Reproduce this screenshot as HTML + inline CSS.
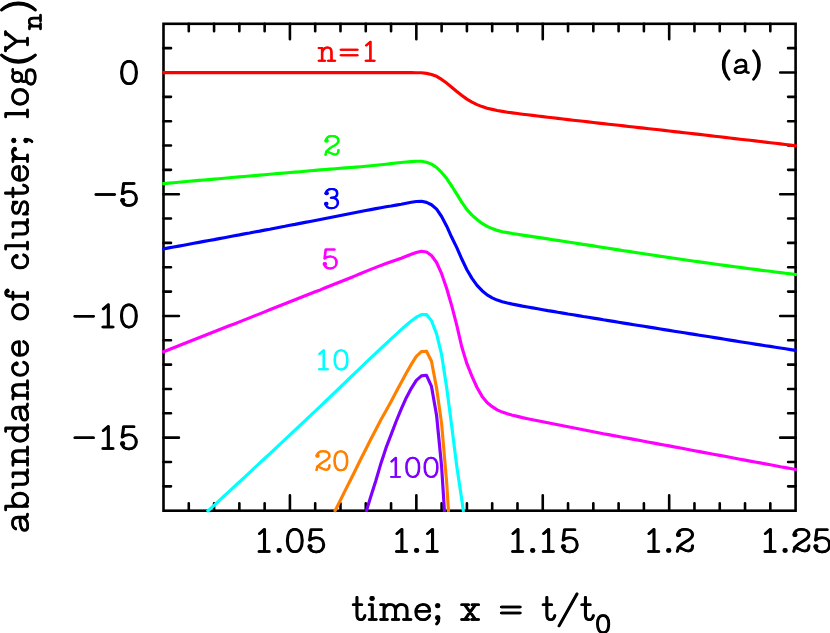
<!DOCTYPE html>
<html><head><meta charset="utf-8"><title>chart</title>
<style>html,body{margin:0;padding:0;background:#fff;font-family:"Liberation Sans",sans-serif;}svg{display:block;stroke-linecap:round;stroke-linejoin:round;}</style></head><body>
<svg width="830" height="633" viewBox="0 0 830 633">
<rect width="830" height="633" fill="#fff"/>
<defs><g id="g0"><path d="M8.7 -23.7C13.2 -23.7 16.1 -19.5 16.1 -12.45C16.1 -5.4 13.2 -1.2 8.7 -1.2C4.2 -1.2 1.3 -5.4 1.3 -12.45C1.3 -19.5 4.2 -23.7 8.7 -23.7Z" fill="none"/></g><g id="g1"><path d="M13.7 -23.2H3.4L2.1 -12.8C3.6 -14.4 6 -15.2 8.6 -15.2C13 -15.2 16.1 -12.4 16.1 -8C16.1 -3.8 13 -1.1 8.6 -1.1C5.2 -1.1 2.6 -2.8 1.8 -6" fill="none"/><circle cx="2.4" cy="-6.4" r="2.3" fill="currentColor" stroke="none"/></g><g id="g2"><path d="M1.25 -12.2H19.75" fill="none"/></g><g id="g3"><path d="M1.7 -19.4L6.7 -23.7V-1.45 M1.3 -1.45H11.4" fill="none"/></g><g id="g4"><circle cx="2.35" cy="-2.6" r="2.35" fill="currentColor" stroke="none"/></g><g id="g5"><path d="M2.0 -18.2C2.4 -21.6 5.2 -23.7 9 -23.7C13.4 -23.7 16.7 -21.8 16.7 -18.2C16.7 -15.2 14.4 -13.6 9.6 -11.2C5.4 -9 2 -6.8 1.5 -1.6 M2.3 -5.6C6 -5.4 8.5 -2.2 12.2 -1.9C15 -1.7 16.7 -3.5 16.7 -7.2" fill="none"/><circle cx="2.7" cy="-18.2" r="2.3" fill="currentColor" stroke="none"/></g><g id="g6"><path d="M4.95 -23.4V-6C4.95 -2.6 6.4 -1.0 8.8 -1.0C11 -1.0 12.3 -2.6 12.9 -5.3 M1.3 -15.85H9.7" fill="none"/></g><g id="g7"><path d="M1.3 -15.85H4.25V-1.3 M1.3 -1.3H8.2" fill="none"/><circle cx="4.1" cy="-22.2" r="2.45" fill="currentColor" stroke="none"/></g><g id="g8"><path d="M1.3 -15.85H4.7V-1.3 M1.3 -1.3H7.9 M4.7 -11.5C5.6 -14.5 7.6 -16.3 10.6 -16.3C14.3 -16.3 16.15 -14.2 16.15 -10.8V-1.3 M13 -1.3H19.3 M16.15 -11.5C17 -14.5 19 -16.3 22 -16.3C25.8 -16.3 27.6 -14.2 27.6 -10.8V-1.3 M24.2 -1.3H31.4" fill="none"/></g><g id="g9"><path d="M1.3 -9.5H14.9C14.9 -13.9 12.4 -16.3 8.3 -16.3C4 -16.3 1.3 -13 1.3 -8.6C1.3 -4.1 4 -1.0 8.5 -1.0C11.7 -1.0 13.8 -2.6 14.9 -5.2" fill="none"/></g><g id="g10"><path d="M3.4 -2.3C3.7 0.2 2.8 2.1 1.4 3.2" fill="none"/><circle cx="2.45" cy="-15.0" r="2.45" fill="currentColor" stroke="none"/><circle cx="2.45" cy="-2.9" r="2.45" fill="currentColor" stroke="none"/></g><g id="g11"><path d="M1.3 -16H8.1 M11.7 -16H18.1 M1.3 -1.3H8.1 M11.3 -1.3H18.1 M4.3 -16L15.1 -1.3 M15 -16L4.4 -1.3" fill="none"/></g><g id="g12"><path d="M1.25 -13.7H19.95 M1.25 -7.7H19.95" fill="none"/></g><g id="g13"><path d="M18.9 -26.9L0.9 5.3" fill="none"/></g><g id="g14"><path d="M2.8 -13.0C3.5 -15.2 5.8 -16.3 8.6 -16.3C12.2 -16.3 14.2 -14.4 14.2 -11V-3.6C14.2 -2 15.4 -1.3 17.3 -1.3 M14.2 -8.6C11.5 -9.0 7.8 -8.8 5 -7.9C2.6 -7.2 1.4 -6 1.4 -4.4C1.4 -2.3 3 -1.0 5.9 -1.0C9.3 -1.0 12.4 -2.8 14.2 -5.8" fill="none"/></g><g id="g15"><path d="M1.3 -23.1H4.75V-1.3 M4.75 -11C6 -14.3 8.3 -16.3 11 -16.3C15 -16.3 17.65 -13 17.65 -8.65C17.65 -4.3 15 -1.0 11 -1.0C8.3 -1.0 6 -3 4.75 -6.3" fill="none"/></g><g id="g16"><path d="M1.3 -15.85H4.7V-6C4.7 -2.6 6.4 -1.0 9.2 -1.0C12.2 -1.0 14.6 -2.6 15.8 -5.6 M12.3 -15.85H15.8V-1.3H19.2" fill="none"/></g><g id="g17"><path d="M1.3 -15.85H5V-1.3 M1.3 -1.3H8.1 M5 -11C6 -14.3 8.5 -16.3 11.3 -16.3C14.3 -16.3 15.5 -13.8 15.5 -10.5V-1.3 M11.7 -1.3H19.4" fill="none"/></g><g id="g18"><path d="M11.2 -23.1H14.25V-1.3H17.7 M14.25 -11C13 -14.3 10.7 -16.3 8 -16.3C4 -16.3 1.3 -13 1.3 -8.65C1.3 -4.3 4 -1.0 8 -1.0C10.7 -1.0 13 -3 14.25 -6.3" fill="none"/></g><g id="g19"><path d="M13.3 -12.4C12.4 -14.9 10.6 -16.3 8.3 -16.3C4 -16.3 1.3 -13 1.3 -8.65C1.3 -4.3 4 -1.0 8.4 -1.0C11.4 -1.0 13.4 -2.7 14.2 -5.2" fill="none"/><circle cx="12.7" cy="-12.2" r="2.0" fill="currentColor" stroke="none"/></g><g id="g20"><path d="M8.55 -16.3C12.7 -16.3 15.8 -13 15.8 -8.65C15.8 -4.3 12.7 -1.0 8.55 -1.0C4.4 -1.0 1.3 -4.3 1.3 -8.65C1.3 -13 4.4 -16.3 8.55 -16.3Z" fill="none"/></g><g id="g21"><path d="M4.2 -1.3V-19.3C4.2 -21.9 5.7 -23.1 7.6 -23.1C8.9 -23.1 9.8 -22.5 10 -21.6 M1.3 -15.85H8.1 M1.3 -1.3H7.8" fill="none"/><circle cx="9.5" cy="-21.3" r="2.0" fill="currentColor" stroke="none"/></g><g id="g22"><path d="M1.3 -23.1H4.5V-1.3 M1.3 -1.3H8" fill="none"/></g><g id="g23"><path d="M13.1 -11.8C12.6 -14.6 10.5 -16.3 7.5 -16.3C4.3 -16.3 2.2 -14.6 2.2 -12.4C2.2 -10 4.4 -9.3 7.6 -8.7C11 -8 13.7 -7.2 13.7 -4.7C13.7 -2.4 11.3 -1.0 7.7 -1.0C4.5 -1.0 2.2 -2.4 1.5 -5.4 M13.1 -11.8V-15.6 M1.5 -5.4V-1.4" fill="none"/></g><g id="g24"><path d="M1.3 -15.85H4.2V-1.3 M1.3 -1.3H7.6 M4.2 -10.5C5.4 -14 7.8 -16.3 10.6 -16.3C12.4 -16.3 13.5 -15.6 13.9 -14.3" fill="none"/><circle cx="13.6" cy="-13.9" r="2.0" fill="currentColor" stroke="none"/></g><g id="g25"><path d="M8.4 -16.3C10.9 -16.3 12.9 -14.2 12.9 -11.6C12.9 -9 10.9 -6.9 8.4 -6.9C5.9 -6.9 3.9 -9 3.9 -11.6C3.9 -14.2 5.9 -16.3 8.4 -16.3Z M11.8 -14.8C12.8 -15.9 14.2 -16.4 15.8 -16.0 M5.6 -7.7C3.6 -6.6 3.2 -3.4 5.4 -2.6H11C14.2 -2.6 15.5 -0.6 15.5 1.6C15.5 4.8 12.4 6.4 8.4 6.4C4.4 6.4 1.3 4.9 1.3 2.2C1.3 0.2 2.6 -1.4 4.6 -2.2" fill="none"/></g><g id="g26"><path d="M8.2 -27.3A24 24 0 0 0 8.2 6.6A26.9 26.9 0 0 1 8.2 -27.3Z" fill="currentColor" class="pf"/></g><g id="g27"><path d="M1.3 -23.3H4.6 M17.4 -23.3H20.3 M2.5 -23.3L10.8 -12.2L19.4 -23.3 M10.8 -12.2V-1.3 M7.4 -1.3H13.6" fill="none"/></g><g id="g28"><path d="M1 -27.3A24 24 0 0 1 1 6.6A26.9 26.9 0 0 0 1 -27.3Z" fill="currentColor" class="pf"/></g><g id="g29"><path d="M2.2 -19.2C2.8 -22 5.2 -23.7 8.6 -23.7C12.6 -23.7 15.2 -21.6 15.2 -18.6C15.2 -15.4 12.4 -13.6 8 -13.6C12.8 -13.6 16 -11.4 16 -7.6C16 -3.6 12.8 -1.2 8.6 -1.2C4.8 -1.2 2.2 -3 1.7 -6" fill="none"/><circle cx="2.8" cy="-18.8" r="2.3" fill="currentColor" stroke="none"/><circle cx="2.4" cy="-6.6" r="2.3" fill="currentColor" stroke="none"/></g></defs>
<g stroke="#000" stroke-width="2.6" stroke-linecap="round" fill="none">
<rect x="163.5" y="23.8" width="632.10" height="486.90" stroke-linejoin="miter"/>
<path d="M188.78 510.7v-7.5M188.78 23.8v7.5M214.07 510.7v-7.5M214.07 23.8v7.5M239.35 510.7v-7.5M239.35 23.8v7.5M264.64 510.7v-7.5M264.64 23.8v7.5M289.92 510.7v-15.4M289.92 23.8v15.4M315.20 510.7v-7.5M315.20 23.8v7.5M340.49 510.7v-7.5M340.49 23.8v7.5M365.77 510.7v-7.5M365.77 23.8v7.5M391.06 510.7v-7.5M391.06 23.8v7.5M416.34 510.7v-15.4M416.34 23.8v15.4M441.62 510.7v-7.5M441.62 23.8v7.5M466.91 510.7v-7.5M466.91 23.8v7.5M492.19 510.7v-7.5M492.19 23.8v7.5M517.48 510.7v-7.5M517.48 23.8v7.5M542.76 510.7v-15.4M542.76 23.8v15.4M568.04 510.7v-7.5M568.04 23.8v7.5M593.33 510.7v-7.5M593.33 23.8v7.5M618.61 510.7v-7.5M618.61 23.8v7.5M643.90 510.7v-7.5M643.90 23.8v7.5M669.18 510.7v-15.4M669.18 23.8v15.4M694.46 510.7v-7.5M694.46 23.8v7.5M719.75 510.7v-7.5M719.75 23.8v7.5M745.03 510.7v-7.5M745.03 23.8v7.5M770.32 510.7v-7.5M770.32 23.8v7.5M163.5 48.14h7.5M795.6 48.14h-7.5M163.5 72.49h15.4M795.6 72.49h-15.4M163.5 96.83h7.5M795.6 96.83h-7.5M163.5 121.18h7.5M795.6 121.18h-7.5M163.5 145.53h7.5M795.6 145.53h-7.5M163.5 169.87h7.5M795.6 169.87h-7.5M163.5 194.22h15.4M795.6 194.22h-15.4M163.5 218.56h7.5M795.6 218.56h-7.5M163.5 242.91h7.5M795.6 242.91h-7.5M163.5 267.25h7.5M795.6 267.25h-7.5M163.5 291.59h7.5M795.6 291.59h-7.5M163.5 315.94h15.4M795.6 315.94h-15.4M163.5 340.29h7.5M795.6 340.29h-7.5M163.5 364.63h7.5M795.6 364.63h-7.5M163.5 388.97h7.5M795.6 388.97h-7.5M163.5 413.32h7.5M795.6 413.32h-7.5M163.5 437.67h15.4M795.6 437.67h-15.4M163.5 462.01h7.5M795.6 462.01h-7.5M163.5 486.35h7.5M795.6 486.35h-7.5"/>
</g>
<g fill="none" stroke-width="3.15" stroke-linejoin="round" stroke-linecap="butt">
<path d="M162.2 72.6 L163.5 72.6 L168.6 72.6 L173.6 72.6 L178.7 72.6 L183.7 72.6 L188.8 72.6 L193.8 72.6 L198.9 72.6 L204.0 72.6 L209.0 72.6 L214.1 72.6 L219.1 72.6 L224.2 72.6 L229.2 72.6 L234.3 72.6 L239.4 72.6 L244.4 72.6 L249.5 72.6 L254.5 72.6 L259.6 72.6 L264.6 72.6 L269.7 72.6 L274.7 72.6 L279.8 72.6 L284.9 72.6 L289.9 72.6 L295.0 72.6 L300.0 72.6 L305.1 72.6 L310.1 72.6 L315.2 72.6 L320.3 72.6 L325.3 72.6 L330.4 72.6 L335.4 72.6 L340.5 72.6 L345.5 72.6 L350.6 72.6 L355.7 72.6 L360.7 72.6 L365.8 72.6 L370.8 72.6 L375.9 72.6 L380.9 72.6 L386.0 72.6 L391.1 72.6 L396.1 72.6 L401.2 72.6 L406.2 72.6 L411.3 72.6 L416.3 72.7 L421.4 72.8 L426.5 73.4 L431.5 74.5 L436.6 76.3 L441.6 79.4 L446.7 83.1 L451.7 87.3 L456.8 91.5 L461.9 95.5 L466.9 99.1 L472.0 102.1 L477.0 104.6 L482.1 106.6 L487.1 108.2 L492.2 109.4 L497.2 110.5 L502.3 111.4 L507.4 112.2 L512.4 112.9 L517.5 113.5 L522.5 114.2 L527.6 114.8 L532.6 115.4 L537.7 116.0 L542.8 116.6 L547.8 117.2 L552.9 117.8 L557.9 118.4 L563.0 119.0 L568.0 119.6 L573.1 120.2 L578.2 120.8 L583.2 121.3 L588.3 121.9 L593.3 122.5 L598.4 123.1 L603.4 123.6 L608.5 124.2 L613.6 124.8 L618.6 125.3 L623.7 125.9 L628.7 126.5 L633.8 127.0 L638.8 127.6 L643.9 128.1 L649.0 128.7 L654.0 129.3 L659.1 129.8 L664.1 130.4 L669.2 131.0 L674.2 131.6 L679.3 132.1 L684.4 132.7 L689.4 133.3 L694.5 133.9 L699.5 134.4 L704.6 135.0 L709.6 135.6 L714.7 136.2 L719.7 136.8 L724.8 137.4 L729.9 138.0 L734.9 138.6 L740.0 139.2 L745.0 139.7 L750.1 140.3 L755.1 140.9 L760.2 141.5 L765.3 142.1 L770.3 142.7 L775.4 143.3 L780.4 143.9 L785.5 144.5 L790.5 145.1 L795.6 145.7 L796.9 145.9" stroke="#ff0000"/>
<path d="M162.2 183.7 L163.5 183.6 L168.6 183.1 L173.6 182.7 L178.7 182.2 L183.7 181.8 L188.8 181.3 L193.8 180.9 L198.9 180.4 L204.0 180.0 L209.0 179.6 L214.1 179.1 L219.1 178.7 L224.2 178.2 L229.2 177.8 L234.3 177.3 L239.4 176.9 L244.4 176.5 L249.5 176.0 L254.5 175.6 L259.6 175.1 L264.6 174.7 L269.7 174.3 L274.7 173.8 L279.8 173.4 L284.9 173.0 L289.9 172.5 L295.0 172.1 L300.0 171.7 L305.1 171.2 L310.1 170.8 L315.2 170.4 L320.3 169.9 L325.3 169.5 L330.4 169.1 L335.4 168.7 L340.5 168.3 L345.5 167.9 L350.6 167.5 L355.7 167.1 L360.7 166.7 L365.8 166.2 L370.8 165.8 L375.9 165.3 L380.9 164.8 L386.0 164.2 L391.1 163.6 L396.1 163.0 L401.2 162.5 L406.2 162.0 L411.3 161.6 L416.3 161.3 L421.4 161.2 L426.5 162.2 L431.5 164.1 L436.6 167.5 L441.6 172.4 L446.7 178.6 L451.7 186.0 L456.8 194.2 L461.9 202.4 L466.9 209.6 L472.0 215.1 L477.0 219.5 L482.1 223.4 L487.1 226.4 L492.2 228.6 L497.2 230.4 L502.3 231.7 L507.4 232.6 L512.4 233.5 L517.5 234.3 L522.5 235.1 L527.6 235.9 L532.6 236.6 L537.7 237.4 L542.8 238.1 L547.8 238.9 L552.9 239.7 L557.9 240.4 L563.0 241.2 L568.0 242.0 L573.1 242.8 L578.2 243.6 L583.2 244.4 L588.3 245.1 L593.3 245.9 L598.4 246.7 L603.4 247.5 L608.5 248.3 L613.6 249.1 L618.6 249.9 L623.7 250.7 L628.7 251.4 L633.8 252.2 L638.8 253.0 L643.9 253.8 L649.0 254.5 L654.0 255.3 L659.1 256.1 L664.1 256.8 L669.2 257.6 L674.2 258.3 L679.3 259.0 L684.4 259.8 L689.4 260.5 L694.5 261.2 L699.5 261.9 L704.6 262.6 L709.6 263.3 L714.7 264.0 L719.7 264.7 L724.8 265.4 L729.9 266.1 L734.9 266.8 L740.0 267.4 L745.0 268.1 L750.1 268.8 L755.1 269.4 L760.2 270.1 L765.3 270.7 L770.3 271.3 L775.4 272.0 L780.4 272.6 L785.5 273.3 L790.5 273.9 L795.6 274.5 L796.9 274.7" stroke="#00ff00"/>
<path d="M162.2 249.1 L163.5 248.9 L168.6 247.9 L173.6 247.0 L178.7 246.1 L183.7 245.2 L188.8 244.2 L193.8 243.3 L198.9 242.4 L204.0 241.4 L209.0 240.5 L214.1 239.6 L219.1 238.6 L224.2 237.7 L229.2 236.8 L234.3 235.8 L239.4 234.9 L244.4 233.9 L249.5 233.0 L254.5 232.0 L259.6 231.1 L264.6 230.1 L269.7 229.2 L274.7 228.2 L279.8 227.2 L284.9 226.3 L289.9 225.3 L295.0 224.4 L300.0 223.4 L305.1 222.4 L310.1 221.5 L315.2 220.5 L320.3 219.5 L325.3 218.5 L330.4 217.5 L335.4 216.5 L340.5 215.5 L345.5 214.5 L350.6 213.5 L355.7 212.5 L360.7 211.5 L365.8 210.5 L370.8 209.6 L375.9 208.6 L380.9 207.7 L386.0 206.8 L391.1 206.0 L396.1 205.1 L401.2 204.3 L406.2 203.3 L411.3 202.3 L416.3 201.5 L421.4 201.3 L426.5 202.4 L431.5 204.7 L436.6 209.1 L441.6 216.5 L446.7 226.2 L451.7 237.3 L456.8 247.6 L461.9 259.3 L466.9 269.8 L472.0 278.4 L477.0 285.3 L482.1 290.7 L487.1 294.9 L492.2 297.9 L497.2 300.1 L502.3 301.7 L507.4 303.0 L512.4 304.1 L517.5 305.1 L522.5 306.1 L527.6 307.0 L532.6 307.9 L537.7 308.8 L542.8 309.7 L547.8 310.6 L552.9 311.4 L557.9 312.3 L563.0 313.1 L568.0 314.0 L573.1 314.8 L578.2 315.6 L583.2 316.5 L588.3 317.3 L593.3 318.1 L598.4 318.9 L603.4 319.8 L608.5 320.6 L613.6 321.4 L618.6 322.2 L623.7 323.1 L628.7 323.9 L633.8 324.7 L638.8 325.5 L643.9 326.3 L649.0 327.1 L654.0 327.9 L659.1 328.8 L664.1 329.6 L669.2 330.4 L674.2 331.2 L679.3 332.0 L684.4 332.8 L689.4 333.6 L694.5 334.4 L699.5 335.2 L704.6 336.0 L709.6 336.8 L714.7 337.6 L719.7 338.4 L724.8 339.2 L729.9 340.1 L734.9 340.9 L740.0 341.7 L745.0 342.5 L750.1 343.3 L755.1 344.1 L760.2 344.9 L765.3 345.7 L770.3 346.4 L775.4 347.2 L780.4 348.0 L785.5 348.8 L790.5 349.6 L795.6 350.4 L796.9 350.6" stroke="#0000ff"/>
<path d="M162.2 352.2 L163.5 351.7 L168.6 349.7 L173.6 347.8 L178.7 345.8 L183.7 343.8 L188.8 341.8 L193.8 339.8 L198.9 337.8 L204.0 335.8 L209.0 333.8 L214.1 331.8 L219.1 329.8 L224.2 327.8 L229.2 325.8 L234.3 323.9 L239.4 321.9 L244.4 319.9 L249.5 317.9 L254.5 315.9 L259.6 313.9 L264.6 311.9 L269.7 309.8 L274.7 307.8 L279.8 305.8 L284.9 303.8 L289.9 301.8 L295.0 299.8 L300.0 297.8 L305.1 295.8 L310.1 293.8 L315.2 291.8 L320.3 289.9 L325.3 287.8 L330.4 285.8 L335.4 283.8 L340.5 281.8 L345.5 279.8 L350.6 277.7 L355.7 275.6 L360.7 273.5 L365.8 271.4 L370.8 269.4 L375.9 267.4 L380.9 265.4 L386.0 263.6 L391.1 261.8 L396.1 260.1 L401.2 258.2 L406.2 256.2 L411.3 254.3 L416.3 252.5 L421.4 251.2 L426.5 252.0 L431.5 255.5 L436.6 262.5 L441.6 273.7 L446.7 288.5 L451.7 305.7 L456.8 325.3 L461.9 347.3 L466.9 363.7 L472.0 376.4 L477.0 387.5 L482.1 396.4 L487.1 402.5 L492.2 406.7 L497.2 409.9 L502.3 412.1 L507.4 413.8 L512.4 415.2 L517.5 416.4 L522.5 417.6 L527.6 418.7 L532.6 419.7 L537.7 420.7 L542.8 421.8 L547.8 422.8 L552.9 423.8 L557.9 424.8 L563.0 425.8 L568.0 426.8 L573.1 427.8 L578.2 428.8 L583.2 429.8 L588.3 430.8 L593.3 431.7 L598.4 432.7 L603.4 433.7 L608.5 434.6 L613.6 435.6 L618.6 436.5 L623.7 437.5 L628.7 438.4 L633.8 439.4 L638.8 440.3 L643.9 441.3 L649.0 442.2 L654.0 443.1 L659.1 444.1 L664.1 445.0 L669.2 445.9 L674.2 446.9 L679.3 447.8 L684.4 448.8 L689.4 449.7 L694.5 450.7 L699.5 451.6 L704.6 452.6 L709.6 453.5 L714.7 454.5 L719.7 455.4 L724.8 456.3 L729.9 457.3 L734.9 458.2 L740.0 459.2 L745.0 460.1 L750.1 461.1 L755.1 462.0 L760.2 462.9 L765.3 463.9 L770.3 464.8 L775.4 465.7 L780.4 466.7 L785.5 467.6 L790.5 468.5 L795.6 469.5 L796.9 469.7" stroke="#ff00ff"/>
<path d="M206.9 511.9 L209.0 510.0 L214.1 505.3 L219.1 500.6 L224.2 496.0 L229.2 491.3 L234.3 486.6 L239.4 481.9 L244.4 477.3 L249.5 472.6 L254.5 467.9 L259.6 463.2 L264.6 458.5 L269.7 453.8 L274.7 449.1 L279.8 444.4 L284.9 439.6 L289.9 434.9 L295.0 430.2 L300.0 425.4 L305.1 420.7 L310.1 415.9 L315.2 411.1 L320.3 406.3 L325.3 401.5 L330.4 396.6 L335.4 391.8 L340.5 386.9 L345.5 382.1 L350.6 377.2 L355.7 372.4 L360.7 367.6 L365.8 362.7 L370.8 357.9 L375.9 353.2 L380.9 348.4 L386.0 343.6 L391.1 338.9 L396.1 334.3 L401.2 329.7 L406.2 325.2 L411.3 320.9 L416.3 317.2 L421.4 314.6 L426.5 314.5 L431.5 320.7 L436.6 333.9 L441.6 354.7 L446.7 387.7 L451.7 426.0 L456.8 466.6 L461.9 500.6 L463.5 511.9" stroke="#00ffff"/>
<path d="M334.5 511.9 L335.4 510.1 L340.5 500.0 L345.5 489.9 L350.6 479.7 L355.7 469.5 L360.7 459.3 L365.8 449.2 L370.8 439.2 L375.9 429.4 L380.9 419.8 L386.0 410.7 L391.1 401.5 L396.1 391.9 L401.2 382.5 L406.2 373.3 L411.3 364.4 L416.3 356.3 L421.4 351.6 L426.5 351.2 L431.5 361.2 L436.6 388.3 L441.6 423.6 L446.7 482.9 L448.5 511.9" stroke="#ff8000"/>
<path d="M366.1 511.9 L370.8 496.5 L375.9 480.5 L380.9 463.4 L386.0 447.9 L391.1 434.6 L396.1 421.5 L401.2 409.1 L406.2 397.9 L411.3 388.3 L416.3 380.4 L421.4 375.9 L426.5 375.3 L431.5 386.4 L436.6 415.5 L441.6 466.5 L444.5 511.9" stroke="#8000ff"/>
</g>
<g transform="translate(120.30 84.89) scale(1.0)" color="#000" stroke="#000" stroke-width="2.50"><use href="#g0" x="-0.30"/><use href="#g0" x="0.30"/></g>
<g transform="translate(120.30 206.62) scale(1.0)" color="#000" stroke="#000" stroke-width="2.50"><use href="#g1" x="-0.30"/><use href="#g1" x="0.30"/></g><g transform="translate(94.75 206.62) scale(1.0)" color="#000" stroke="#000" stroke-width="2.50"><use href="#g2" x="-0.30"/><use href="#g2" x="0.30"/></g>
<g transform="translate(101.60 328.34) scale(1.0)" color="#000" stroke="#000" stroke-width="2.50"><use href="#g3" x="-0.30"/><use href="#g3" x="0.30"/></g><g transform="translate(120.20 328.34) scale(1.0)" color="#000" stroke="#000" stroke-width="2.50"><use href="#g0" x="-0.30"/><use href="#g0" x="0.30"/></g><g transform="translate(73.70 328.34) scale(1.0)" color="#000" stroke="#000" stroke-width="2.50"><use href="#g2" x="-0.30"/><use href="#g2" x="0.30"/></g>
<g transform="translate(101.60 450.06) scale(1.0)" color="#000" stroke="#000" stroke-width="2.50"><use href="#g3" x="-0.30"/><use href="#g3" x="0.30"/></g><g transform="translate(120.20 450.06) scale(1.0)" color="#000" stroke="#000" stroke-width="2.50"><use href="#g1" x="-0.30"/><use href="#g1" x="0.30"/></g><g transform="translate(73.70 450.06) scale(1.0)" color="#000" stroke="#000" stroke-width="2.50"><use href="#g2" x="-0.30"/><use href="#g2" x="0.30"/></g>
<g transform="translate(257.80 553.00) scale(1.0)" color="#000" stroke="#000" stroke-width="2.50"><use href="#g3" x="-0.30"/><use href="#g3" x="0.30"/></g><g transform="translate(276.85 553.00) scale(1.0)" color="#000" stroke="#000" stroke-width="2.50"><use href="#g4" x="-0.30"/><use href="#g4" x="0.30"/></g><g transform="translate(286.10 553.00) scale(1.0)" color="#000" stroke="#000" stroke-width="2.50"><use href="#g0" x="-0.30"/><use href="#g0" x="0.30"/></g><g transform="translate(307.60 553.00) scale(1.0)" color="#000" stroke="#000" stroke-width="2.50"><use href="#g1" x="-0.30"/><use href="#g1" x="0.30"/></g>
<g transform="translate(395.20 553.00) scale(1.0)" color="#000" stroke="#000" stroke-width="2.50"><use href="#g3" x="-0.30"/><use href="#g3" x="0.30"/></g><g transform="translate(414.25 553.00) scale(1.0)" color="#000" stroke="#000" stroke-width="2.50"><use href="#g4" x="-0.30"/><use href="#g4" x="0.30"/></g><g transform="translate(425.85 553.00) scale(1.0)" color="#000" stroke="#000" stroke-width="2.50"><use href="#g3" x="-0.30"/><use href="#g3" x="0.30"/></g>
<g transform="translate(511.30 553.00) scale(1.0)" color="#000" stroke="#000" stroke-width="2.50"><use href="#g3" x="-0.30"/><use href="#g3" x="0.30"/></g><g transform="translate(530.35 553.00) scale(1.0)" color="#000" stroke="#000" stroke-width="2.50"><use href="#g4" x="-0.30"/><use href="#g4" x="0.30"/></g><g transform="translate(541.95 553.00) scale(1.0)" color="#000" stroke="#000" stroke-width="2.50"><use href="#g3" x="-0.30"/><use href="#g3" x="0.30"/></g><g transform="translate(561.10 553.00) scale(1.0)" color="#000" stroke="#000" stroke-width="2.50"><use href="#g1" x="-0.30"/><use href="#g1" x="0.30"/></g>
<g transform="translate(647.30 553.00) scale(1.0)" color="#000" stroke="#000" stroke-width="2.50"><use href="#g3" x="-0.30"/><use href="#g3" x="0.30"/></g><g transform="translate(666.35 553.00) scale(1.0)" color="#000" stroke="#000" stroke-width="2.50"><use href="#g4" x="-0.30"/><use href="#g4" x="0.30"/></g><g transform="translate(675.85 553.00) scale(1.0)" color="#000" stroke="#000" stroke-width="2.50"><use href="#g5" x="-0.30"/><use href="#g5" x="0.30"/></g>
<g transform="translate(763.70 553.00) scale(1.0)" color="#000" stroke="#000" stroke-width="2.50"><use href="#g3" x="-0.30"/><use href="#g3" x="0.30"/></g><g transform="translate(782.75 553.00) scale(1.0)" color="#000" stroke="#000" stroke-width="2.50"><use href="#g4" x="-0.30"/><use href="#g4" x="0.30"/></g><g transform="translate(792.25 553.00) scale(1.0)" color="#000" stroke="#000" stroke-width="2.50"><use href="#g5" x="-0.30"/><use href="#g5" x="0.30"/></g><g transform="translate(813.50 553.00) scale(1.0)" color="#000" stroke="#000" stroke-width="2.50"><use href="#g1" x="-0.30"/><use href="#g1" x="0.30"/></g>
<g transform="translate(352.00 620.70) scale(1.0)" color="#000" stroke="#000" stroke-width="2.50"><use href="#g6" x="-0.30"/><use href="#g6" x="0.30"/></g><g transform="translate(368.00 620.70) scale(1.0)" color="#000" stroke="#000" stroke-width="2.50"><use href="#g7" x="-0.30"/><use href="#g7" x="0.30"/></g><g transform="translate(379.40 620.70) scale(1.0)" color="#000" stroke="#000" stroke-width="2.50"><use href="#g8" x="-0.30"/><use href="#g8" x="0.30"/></g><g transform="translate(414.60 620.70) scale(1.0)" color="#000" stroke="#000" stroke-width="2.50"><use href="#g9" x="-0.30"/><use href="#g9" x="0.30"/></g><g transform="translate(435.25 620.70) scale(1.0)" color="#000" stroke="#000" stroke-width="2.50"><use href="#g10" x="-0.30"/><use href="#g10" x="0.30"/></g><g transform="translate(460.40 620.70) scale(1.0)" color="#000" stroke="#000" stroke-width="2.50"><use href="#g11" x="-0.30"/><use href="#g11" x="0.30"/></g><g transform="translate(500.20 620.70) scale(1.0)" color="#000" stroke="#000" stroke-width="2.50"><use href="#g12" x="-0.30"/><use href="#g12" x="0.30"/></g><g transform="translate(541.90 620.70) scale(1.0)" color="#000" stroke="#000" stroke-width="2.50"><use href="#g6" x="-0.30"/><use href="#g6" x="0.30"/></g><g transform="translate(558.10 620.70) scale(1.0)" color="#000" stroke="#000" stroke-width="2.50"><use href="#g13" x="-0.30"/><use href="#g13" x="0.30"/></g><g transform="translate(580.50 620.70) scale(1.0)" color="#000" stroke="#000" stroke-width="2.50"><use href="#g6" x="-0.30"/><use href="#g6" x="0.30"/></g>
<g transform="translate(596.50 633.50) scale(0.76)" color="#000" stroke="#000" stroke-width="3.03"><use href="#g0" x="-0.39"/><use href="#g0" x="0.39"/></g>
<g transform="translate(28.8 0) rotate(-90)">
<g transform="translate(-531.60 0.00) scale(1.0)" color="#000" stroke="#000" stroke-width="2.50"><use href="#g14" x="-0.30"/><use href="#g14" x="0.30"/></g><g transform="translate(-511.05 0.00) scale(1.0)" color="#000" stroke="#000" stroke-width="2.50"><use href="#g15" x="-0.30"/><use href="#g15" x="0.30"/></g><g transform="translate(-488.90 0.00) scale(1.0)" color="#000" stroke="#000" stroke-width="2.50"><use href="#g16" x="-0.30"/><use href="#g16" x="0.30"/></g><g transform="translate(-466.40 0.00) scale(1.0)" color="#000" stroke="#000" stroke-width="2.50"><use href="#g17" x="-0.30"/><use href="#g17" x="0.30"/></g><g transform="translate(-442.40 0.00) scale(1.0)" color="#000" stroke="#000" stroke-width="2.50"><use href="#g18" x="-0.30"/><use href="#g18" x="0.30"/></g><g transform="translate(-421.40 0.00) scale(1.0)" color="#000" stroke="#000" stroke-width="2.50"><use href="#g14" x="-0.30"/><use href="#g14" x="0.30"/></g><g transform="translate(-400.30 0.00) scale(1.0)" color="#000" stroke="#000" stroke-width="2.50"><use href="#g17" x="-0.30"/><use href="#g17" x="0.30"/></g><g transform="translate(-376.50 0.00) scale(1.0)" color="#000" stroke="#000" stroke-width="2.50"><use href="#g19" x="-0.30"/><use href="#g19" x="0.30"/></g><g transform="translate(-356.60 0.00) scale(1.0)" color="#000" stroke="#000" stroke-width="2.50"><use href="#g9" x="-0.30"/><use href="#g9" x="0.30"/></g><g transform="translate(-320.30 0.00) scale(1.0)" color="#000" stroke="#000" stroke-width="2.50"><use href="#g20" x="-0.30"/><use href="#g20" x="0.30"/></g><g transform="translate(-300.40 0.00) scale(1.0)" color="#000" stroke="#000" stroke-width="2.50"><use href="#g21" x="-0.30"/><use href="#g21" x="0.30"/></g><g transform="translate(-269.10 0.00) scale(1.0)" color="#000" stroke="#000" stroke-width="2.50"><use href="#g19" x="-0.30"/><use href="#g19" x="0.30"/></g><g transform="translate(-250.30 0.00) scale(1.0)" color="#000" stroke="#000" stroke-width="2.50"><use href="#g22" x="-0.30"/><use href="#g22" x="0.30"/></g><g transform="translate(-238.70 0.00) scale(1.0)" color="#000" stroke="#000" stroke-width="2.50"><use href="#g16" x="-0.30"/><use href="#g16" x="0.30"/></g><g transform="translate(-215.50 0.00) scale(1.0)" color="#000" stroke="#000" stroke-width="2.50"><use href="#g23" x="-0.30"/><use href="#g23" x="0.30"/></g><g transform="translate(-198.05 0.00) scale(1.0)" color="#000" stroke="#000" stroke-width="2.50"><use href="#g6" x="-0.30"/><use href="#g6" x="0.30"/></g><g transform="translate(-181.50 0.00) scale(1.0)" color="#000" stroke="#000" stroke-width="2.50"><use href="#g9" x="-0.30"/><use href="#g9" x="0.30"/></g><g transform="translate(-162.70 0.00) scale(1.0)" color="#000" stroke="#000" stroke-width="2.50"><use href="#g24" x="-0.30"/><use href="#g24" x="0.30"/></g><g transform="translate(-142.95 0.00) scale(1.0)" color="#000" stroke="#000" stroke-width="2.50"><use href="#g10" x="-0.30"/><use href="#g10" x="0.30"/></g><g transform="translate(-118.10 0.00) scale(1.0)" color="#000" stroke="#000" stroke-width="2.50"><use href="#g22" x="-0.30"/><use href="#g22" x="0.30"/></g><g transform="translate(-105.40 0.00) scale(1.0)" color="#000" stroke="#000" stroke-width="2.50"><use href="#g20" x="-0.30"/><use href="#g20" x="0.30"/></g><g transform="translate(-85.40 0.00) scale(1.0)" color="#000" stroke="#000" stroke-width="2.50"><use href="#g25" x="-0.30"/><use href="#g25" x="0.30"/></g><g transform="translate(-63.30 0.00) scale(1.0)" color="#000" stroke="#000" stroke-width="2.50"><use href="#g26" x="-0.30"/><use href="#g26" x="0.30"/></g><g transform="translate(-52.00 0.00) scale(1.0)" color="#000" stroke="#000" stroke-width="2.50"><use href="#g27" x="-0.30"/><use href="#g27" x="0.30"/></g><g transform="translate(-11.00 0.00) scale(1.0)" color="#000" stroke="#000" stroke-width="2.50"><use href="#g28" x="-0.30"/><use href="#g28" x="0.30"/></g>
<g transform="translate(-29.90 12.70) scale(0.76)" color="#000" stroke="#000" stroke-width="2.96"><use href="#g17" x="-0.39"/><use href="#g17" x="0.39"/></g>
</g>
<g transform="translate(317.70 62.00) scale(0.89)" color="#ff0000" stroke="#ff0000" stroke-width="2.25"><use href="#g17" x="-0.34"/><use href="#g17" x="0.34"/></g><g transform="translate(339.70 62.00) scale(0.89)" color="#ff0000" stroke="#ff0000" stroke-width="2.25"><use href="#g12" x="-0.34"/><use href="#g12" x="0.34"/></g><g transform="translate(364.70 62.00) scale(0.855)" color="#ff0000" stroke="#ff0000" stroke-width="2.34"><use href="#g3" x="-0.35"/><use href="#g3" x="0.35"/></g>
<g transform="translate(324.20 156.20) scale(0.855)" color="#00ff00" stroke="#00ff00" stroke-width="2.34"><use href="#g5" x="-0.35"/><use href="#g5" x="0.35"/></g>
<g transform="translate(324.20 209.30) scale(0.855)" color="#0000ff" stroke="#0000ff" stroke-width="2.34"><use href="#g29" x="-0.35"/><use href="#g29" x="0.35"/></g>
<g transform="translate(322.80 269.40) scale(0.855)" color="#ff00ff" stroke="#ff00ff" stroke-width="2.34"><use href="#g1" x="-0.35"/><use href="#g1" x="0.35"/></g>
<g transform="translate(318.00 370.60) scale(0.855)" color="#00ffff" stroke="#00ffff" stroke-width="2.34"><use href="#g3" x="-0.35"/><use href="#g3" x="0.35"/></g><g transform="translate(333.60 370.60) scale(0.855)" color="#00ffff" stroke="#00ffff" stroke-width="2.34"><use href="#g0" x="-0.35"/><use href="#g0" x="0.35"/></g>
<g transform="translate(315.20 471.40) scale(0.855)" color="#ff8000" stroke="#ff8000" stroke-width="2.34"><use href="#g5" x="-0.35"/><use href="#g5" x="0.35"/></g><g transform="translate(333.40 471.40) scale(0.855)" color="#ff8000" stroke="#ff8000" stroke-width="2.34"><use href="#g0" x="-0.35"/><use href="#g0" x="0.35"/></g>
<g transform="translate(390.10 478.10) scale(0.855)" color="#8000ff" stroke="#8000ff" stroke-width="2.28"><use href="#g3" x="-0.35"/><use href="#g3" x="0.35"/></g><g transform="translate(405.30 478.10) scale(0.855)" color="#8000ff" stroke="#8000ff" stroke-width="2.28"><use href="#g0" x="-0.35"/><use href="#g0" x="0.35"/></g><g transform="translate(423.60 478.10) scale(0.855)" color="#8000ff" stroke="#8000ff" stroke-width="2.28"><use href="#g0" x="-0.35"/><use href="#g0" x="0.35"/></g>
<g transform="translate(722.20 73.80) scale(0.85)" color="#000" stroke="#000" stroke-width="2.53"><use href="#g26" x="-0.35"/><use href="#g26" x="0.35"/></g><g transform="translate(733.80 73.80) scale(0.85)" color="#000" stroke="#000" stroke-width="2.53"><use href="#g14" x="-0.35"/><use href="#g14" x="0.35"/></g><g transform="translate(752.60 73.80) scale(0.85)" color="#000" stroke="#000" stroke-width="2.53"><use href="#g28" x="-0.35"/><use href="#g28" x="0.35"/></g>
</svg></body></html>
